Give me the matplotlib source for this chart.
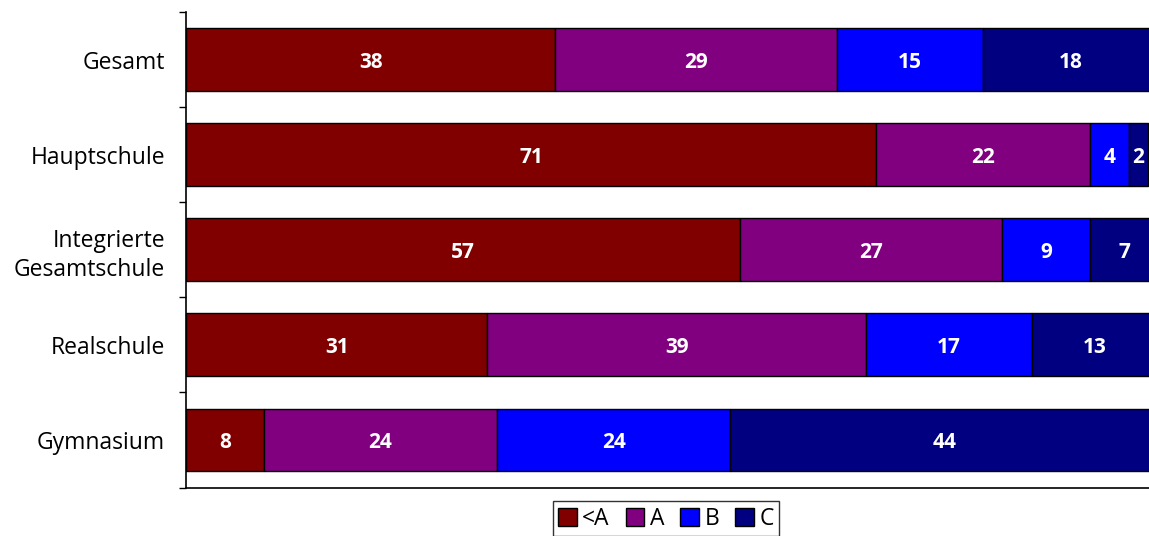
import matplotlib
matplotlib.use("Agg")
import matplotlib.pyplot as plt
import numpy as np

categories = ["Gesamt", "Hauptschule", "Integrierte\nGesamtschule", "Realschule", "Gymnasium"]
series_names = ["<A", "A", "B", "C"]
val_lt_a = [38, 71, 57, 31, 8]
val_a = [29, 22, 27, 39, 24]
val_b = [15, 4, 9, 17, 24]
val_c = [18, 2, 7, 13, 44]
colors = ["#800000", "#800080", "#0000FF", "#000080"]

plt.rcParams['font.family'] = ['Open Sans', 'DejaVu Sans']

fig = plt.figure(figsize=(11.49, 5.36), dpi=100)
ax = fig.add_axes([186/1149, 48.5/536, 972/1149, 475.5/536])

y = np.arange(len(categories))
left = np.zeros(len(categories))
for name, vals, col in zip(series_names, [val_lt_a, val_a, val_b, val_c], colors):
    vals = np.array(vals, dtype=float)
    bars = ax.barh(y, vals, left=left, height=0.66, color=col, edgecolor="black",
                   linewidth=1.0, label=name)
    for yi, l, v in zip(y, left, vals):
        ax.text(l + v / 2, yi, f"{int(v)}", ha="center", va="center_baseline", color="white",
                fontsize=15, fontweight="bold", clip_on=False)
    left += vals

ax.set_xlim(0, 100)
ax.set_ylim(len(categories) - 0.5, -0.5)
ax.set_yticks(y)
ax.set_yticklabels(categories, fontsize=16.5, linespacing=1.3)
ax.set_yticks(np.arange(-0.5, len(categories), 1.0), minor=True)
ax.tick_params(axis="y", which="major", length=0, pad=15)
ax.tick_params(axis="y", which="minor", length=5, width=1, direction="out")
ax.set_xticks([])
ax.spines["top"].set_visible(False)
ax.spines["right"].set_visible(False)
ax.spines["left"].set_linewidth(1.2)
ax.spines["bottom"].set_linewidth(1.2)

leg = fig.legend(loc="upper center", bbox_to_anchor=(666/1149, 1 - 501/536), ncol=4,
                 frameon=True, fancybox=False, edgecolor="black", fontsize=16.5,
                 handlelength=0.8, handleheight=0.8, handletextpad=0.25, columnspacing=0.7,
                 borderpad=0.25, borderaxespad=0)
leg.get_frame().set_linewidth(1.0)

fig.savefig("out.png", dpi=100)
